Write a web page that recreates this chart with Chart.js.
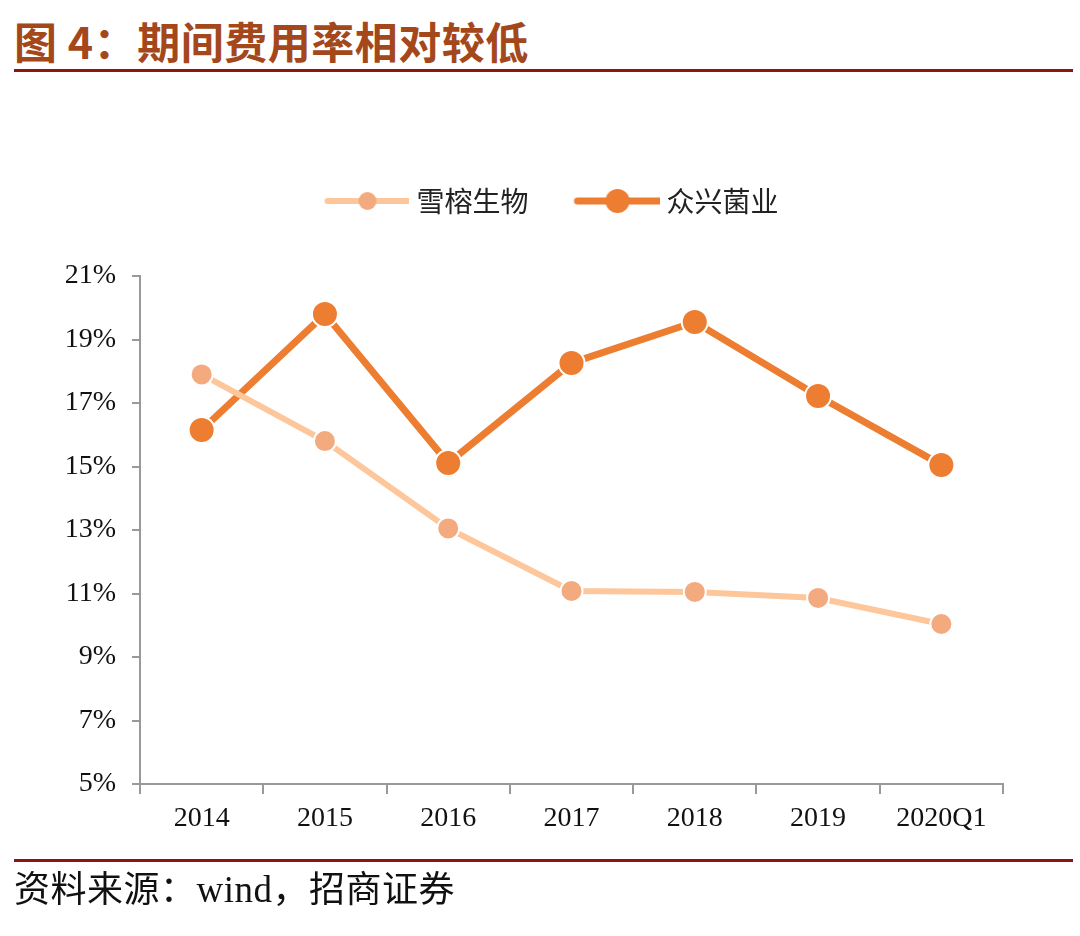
<!DOCTYPE html>
<html>
<head>
<meta charset="utf-8">
<script src="https://cdn.jsdelivr.net/npm/chart.js@4"></script>
<style>
  body { margin: 0; background: #fff; width: 1080px; height: 936px; position: relative; overflow: hidden; }
  #title { position: absolute; left: 14px; top: 14px; font-family: "Noto Sans CJK SC"; font-weight: 700; font-size: 43px; letter-spacing: 0.5px; color: #A4481C; line-height: 52px; white-space: nowrap; }
  .rule { position: absolute; left: 14px; width: 1059px; height: 3px; background: #8E1414; }
  #source { position: absolute; left: 14px; top: 864px; font-family: "Noto Sans CJK SC"; font-size: 36px; letter-spacing: 0.5px; color: #111; line-height: 44px; white-space: nowrap; }
  #source .lat { font-family: "Liberation Serif"; font-size: 37px; }
  #wrap { position: absolute; left: 0; top: 149px; width: 1080px; height: 711px; }
</style>
</head>
<body>
<div id="title">图 4：期间费用率相对较低</div>
<div class="rule" style="top:69px"></div>
<div id="wrap"><canvas id="chart"></canvas></div>
<div class="rule" style="top:859px"></div>
<div id="source">资料来源：<span class="lat">wind</span>，招商证券</div>
<script>
// data (percent)
const years = ['2014', '2015', '2016', '2017', '2018', '2019', '2020Q1'];
const xuerong = [17.9, 15.8, 13.05, 11.08, 11.05, 10.86, 10.04];
const zhongxing = [16.15, 19.8, 15.11, 18.26, 19.55, 17.22, 15.05];
const seriesNames = ['雪榕生物', '众兴菌业'];

const lightLine = '#FDC79B';
const lightDot = '#F2AA7E';
const darkLine = '#ED7D31';

// legend symbol: short line with a dot in the middle (drawn a bit left of the box so text sits close)
function legendIcon(lineColor, dotColor, lw, r) {
    const c = document.createElement('canvas');
    c.width = 100; c.height = 28;
    const g = c.getContext('2d');
    g.strokeStyle = lineColor; g.lineWidth = lw; g.lineCap = 'round';
    g.beginPath(); g.moveTo(18, 14); g.lineTo(99, 14); g.stroke();
    g.fillStyle = dotColor;
    g.beginPath(); g.arc(58, 14, r, 0, Math.PI * 2); g.fill();
    return c;
}
const icons = [legendIcon(lightLine, lightDot, 6, 9), legendIcon(darkLine, darkLine, 7, 12)];

// fixed gap between legend and plot, and legend nudged right like the original
const legendGap = {
    id: 'legendGap',
    afterInit(chart) {
        const lg = chart.legend;
        const fit = lg.fit;
        lg.fit = function () { fit.call(this); this.height = 127; };
    },
    afterLayout(chart) {
        chart.legend.left += 38;
        chart.legend.right += 38;
    }
};

new Chart(document.getElementById('chart'), {
    type: 'line',
    plugins: [legendGap],
    data: {
        labels: years,
        datasets: [{
            label: seriesNames[0],
            data: xuerong,
            borderColor: lightLine,
            borderWidth: 6,
            pointBackgroundColor: lightDot,
            pointBorderColor: '#fff',
            pointBorderWidth: 2,
            pointRadius: 11,
            tension: 0
        }, {
            label: seriesNames[1],
            data: zhongxing,
            borderColor: darkLine,
            borderWidth: 7,
            pointBackgroundColor: darkLine,
            pointBorderColor: '#fff',
            pointBorderWidth: 2,
            pointRadius: 13,
            tension: 0
        }]
    },
    options: {
        responsive: true,
        maintainAspectRatio: false,
        animation: false,
        layout: { padding: { left: 16, right: 77, top: 0, bottom: 0 } },
        plugins: {
            tooltip: { enabled: false },
            legend: {
                labels: {
                    usePointStyle: true,
                    pointStyleWidth: 86,
                    padding: 38,
                    color: '#222',
                    font: { family: 'Noto Sans CJK SC', size: 28 },
                    generateLabels: (chart) => chart.data.datasets.map((ds, i) => ({
                        text: ds.label,
                        pointStyle: icons[i],
                        fillStyle: 'transparent',
                        strokeStyle: 'transparent',
                        lineWidth: 0,
                        datasetIndex: i,
                        fontColor: '#222'
                    }))
                }
            }
        },
        scales: {
            x: {
                offset: true,
                grid: { offset: true, drawOnChartArea: false, drawTicks: true, tickLength: 10, color: '#999', lineWidth: 2 },
                border: { color: '#999', width: 2 },
                ticks: { color: '#111', padding: 8, font: { family: 'Liberation Serif', size: 28 }, maxRotation: 0 },
                afterFit: (s) => { s.height = 76; }
            },
            y: {
                min: 5, max: 21,
                ticks: { stepSize: 2, color: '#111', padding: 16, font: { family: 'Liberation Serif', size: 28 }, callback: v => v + '%' },
                grid: { drawOnChartArea: false, drawTicks: true, tickLength: 8, color: '#999', lineWidth: 2 },
                border: { color: '#999', width: 2 },
                afterFit: (s) => { s.width = 124; }
            }
        }
    }
});
</script>
</body>
</html>
